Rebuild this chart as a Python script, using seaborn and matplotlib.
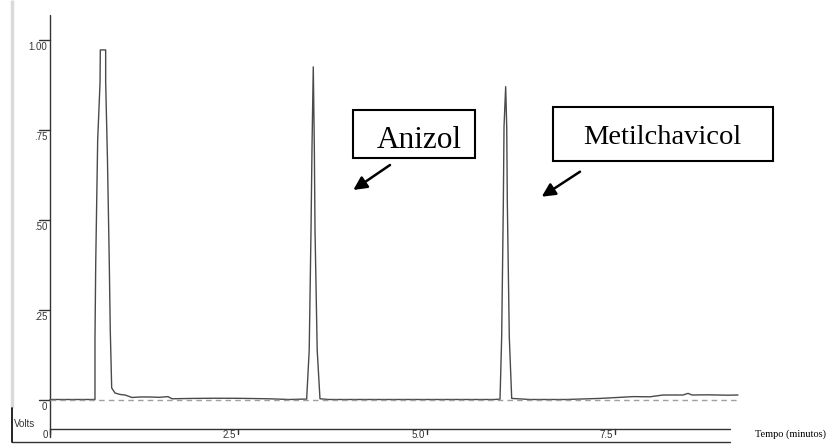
import matplotlib
matplotlib.use("Agg")
import matplotlib.pyplot as plt
from matplotlib.patches import Rectangle
import pandas as pd
import seaborn as sns

# Chromatogram trace: retention time (minutes) and detector signal (volts)
time_min = [0.0, 0.30, 0.597,
            0.597, 0.607, 0.633, 0.664, 0.668, 0.739, 0.739, 0.763, 0.787,
            0.800, 0.819, 0.863, 0.930, 0.996, 1.089, 1.200, 1.327, 1.450,
            1.566, 1.620, 1.900, 2.200, 2.500, 2.900, 3.180, 3.350, 3.407,
            3.441, 3.465, 3.478, 3.495, 3.509, 3.518, 3.547, 3.584,
            3.700, 4.500, 5.300, 5.900, 5.974,
            5.996, 6.018, 6.027, 6.049, 6.063, 6.071, 6.097, 6.129,
            6.372, 6.850, 7.300, 7.740, 7.965, 8.138, 8.403, 8.470, 8.523,
            8.722, 9.000, 9.133]
signal_v = [0.0, 0.0, 0.0,
            0.165, 0.379, 0.721, 0.879, 0.971, 0.971, 0.882, 0.665, 0.379,
            0.193, 0.032, 0.018, 0.014, 0.0125, 0.0056, 0.007, 0.007, 0.006,
            0.008, 0.002, 0.003, 0.0035, 0.0033, 0.002, 0.0, 0.001, 0.001,
            0.137, 0.471, 0.700, 0.924, 0.700, 0.471, 0.137, 0.002,
            0.0, 0.0, 0.0, 0.0, 0.001,
            0.174, 0.546, 0.757, 0.869, 0.757, 0.546, 0.174, 0.003,
            0.0, 0.0, 0.003, 0.008, 0.0075, 0.0125, 0.0125, 0.017, 0.0125,
            0.013, 0.012, 0.0125]

y_ticks = [1.0, 0.75, 0.5, 0.25, 0.0]
y_tick_labels = ["1.00", ".75", ".50", ".25", "0"]
x_ticks = [0.0, 2.5, 5.0, 7.5]
x_tick_labels = ["0", "2.5", "5.0", "7.5"]
x_axis_end = 9.03

peak_names = ["Anizol", "Metilchavicol"]
x_title = "Tempo (minutos)"
y_title = "Volts"

# canvas geometry (pixels)
W, H = 829, 446
X0, Y0 = 50.0, 399.5
PX_PER_MIN, PX_PER_V = 75.33, 360.0

sns.set_style("white")
plt.rcParams["font.family"] = ["Liberation Sans", "DejaVu Sans"]

fig = plt.figure(figsize=(W / 100, H / 100), dpi=100)
ax = fig.add_axes([0, 0, 1, 1])
ax.set_xlim(-X0 / PX_PER_MIN, (W - X0) / PX_PER_MIN)
ax.set_ylim((Y0 - H) / PX_PER_V, Y0 / PX_PER_V)
ax.axis("off")


def fx(px):
    return px / W


def fy(py):
    return 1 - py / H


def t_of(px):
    return (px - X0) / PX_PER_MIN


axis_col = "#333333"
text_col = "#333333"

# signal trace and dashed zero baseline
df = pd.DataFrame({"t": time_min, "v": signal_v})
sns.lineplot(data=df, x="t", y="v", sort=False, estimator=None,
             color="#4a4a4a", lw=1.0, ax=ax, zorder=3)
ax.plot([0, time_min[-1]], [0, 0], ls=(0, (4, 3)), color="#a0a0a0",
        lw=1.0, zorder=4)

# window edge stripe
ax.plot([fx(12.5)] * 2, [fy(0), fy(408)], transform=ax.transAxes,
        color="#dadada", lw=2.5, solid_capstyle="butt")

# vertical (signal) axis
ax.plot([fx(50.5)] * 2, [fy(15), fy(437)], transform=ax.transAxes,
        color=axis_col, lw=1.0)
ytr = ax.get_yaxis_transform()
for v, lab in zip(y_ticks, y_tick_labels):
    ax.plot([fx(39), fx(50.5)], [v, v], transform=ytr, color=axis_col, lw=1.0)
    ax.annotate(lab, xy=(fx(47.5), v), xycoords=ytr, xytext=(0, -7),
                textcoords="offset pixels", ha="right", va="center",
                fontsize=7, color=text_col)

# time axis strip
xtr = ax.get_xaxis_transform()
ax.plot([0, x_axis_end], [fy(428.5)] * 2, transform=xtr, color=axis_col, lw=1.0)
ax.plot([t_of(12), x_axis_end], [fy(441.5)] * 2, transform=xtr,
        color=axis_col, lw=1.0)
for t, lab in zip(x_ticks, x_tick_labels):
    ax.plot([t, t], [fy(428.5), fy(434)], transform=xtr, color=axis_col, lw=1.0)
    ax.annotate(lab, xy=(t, fy(434.5)), xycoords=xtr, xytext=(-2, 0),
                textcoords="offset pixels", ha="right", va="center",
                fontsize=7, color=text_col)

ax.text(fx(755), fy(434), x_title, transform=ax.transAxes, ha="left",
        va="center", fontsize=7.5, family=["Liberation Serif", "DejaVu Serif"],
        color="black")

# signal unit marker
ax.plot([fx(12.5)] * 2, [fy(408), fy(442)], transform=ax.transAxes,
        color="black", lw=1.2)
ax.text(fx(13.5), fy(424), y_title, transform=ax.transAxes, ha="left",
        va="center", fontsize=7, color=text_col)

# peak labels with arrows
boxes = [(353.3, 110.0, 475.0, 158.3), (552.7, 106.5, 773.3, 160.5)]
text_pos = [(419.5, 148.3), (662.5, 143.5)]
text_size = [22.5, 20.5]
arrows = [((390.0, 165.0), (353.3, 190.0)), ((580.0, 171.7), (541.7, 196.7))]
for name, (x1, y1, x2, y2), (tx, ty), fs, (tail, tip) in zip(
        peak_names, boxes, text_pos, text_size, arrows):
    ax.add_patch(Rectangle((fx(x1), fy(y2)), (x2 - x1) / W, (y2 - y1) / H,
                           transform=ax.transAxes, facecolor="white",
                           edgecolor="black", lw=1.5, zorder=5))
    ax.text(fx(tx), fy(ty), name, transform=ax.transAxes, ha="center",
            va="baseline", fontsize=fs,
            family=["Liberation Serif", "DejaVu Serif"], color="black",
            zorder=6)
    ax.annotate("", xy=(fx(tip[0]), fy(tip[1])), xycoords=ax.transAxes,
                xytext=(fx(tail[0]), fy(tail[1])), textcoords=ax.transAxes,
                arrowprops=dict(arrowstyle="-|>", color="black", lw=1.8,
                                mutation_scale=20, shrinkA=0, shrinkB=0))

fig.savefig("out.png", dpi=100)
